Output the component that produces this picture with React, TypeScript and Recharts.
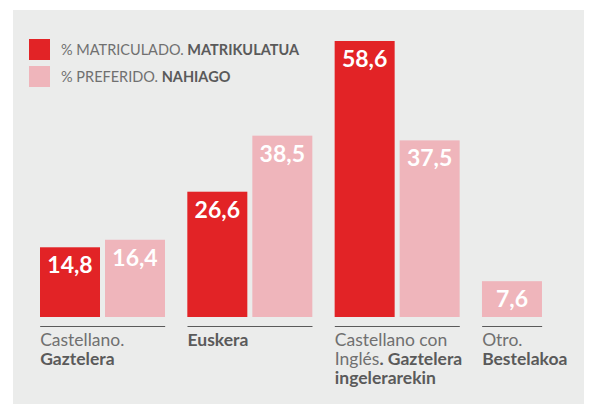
import React from 'react';
import { BarChart, Bar, XAxis, YAxis } from 'recharts';

const categories = ['Castellano. Gaztelera', 'Euskera', 'Castellano con Inglés. Gaztelera ingelerarekin', 'Otro. Bestelakoa'];
const matriculado = [14.8, 26.6, 58.6, null];
const preferido = [16.4, 38.5, 37.5, 7.6];

// tick lines: [regular part, bold part]
const tickLines: [string, string][][] = [
  [['Castellano.', ''], ['', 'Gaztelera']],
  [['', 'Euskera']],
  [['Castellano con', ''], ['Inglés', '. Gaztelera'], ['', 'ingelerarekin']],
  [['Otro.', ''], ['', 'Bestelakoa']],
];

const legendRegular = ['% MATRICULADO.', '% PREFERIDO.'];
const legendBold = ['MATRIKULATUA', 'NAHIAGO'];

const RED = '#e22326';
const PINK = '#efb5bb';
const FONT = 'Lato, "Open Sans", sans-serif';

const data = categories.map((name, i) => ({
  name,
  matriculado: matriculado[i],
  preferido: preferido[i],
}));

const fmt = (v: number) => v.toFixed(1).replace('.', ',');

const BarWithLabel = (props: any) => {
  const { x, y, width, height, fill, index, dataKey } = props;
  const v = data[index][dataKey as 'matriculado' | 'preferido'];
  if (v == null) return null;
  // when the first series is missing the bar moves into the first slot
  const dx = dataKey === 'preferido' && data[index].matriculado == null ? -(width + 5) : 0;
  return (
    <g>
      <rect x={x + dx} y={y} width={width} height={height} fill={fill} />
      <text
        x={x + dx + width / 2}
        y={y + 26}
        textAnchor="middle"
        fill="#fff"
        fontFamily={FONT}
        fontWeight={700}
        fontSize={23}
      >
        {fmt(v)}
      </text>
    </g>
  );
};

const CategoryTick = (props: any) => {
  const { x, y, index } = props;
  const left = x - 62.5;
  const lineW = data[index].matriculado == null ? 60 : 125;
  return (
    <g>
      <line x1={left} x2={left + lineW} y1={y + 9.5} y2={y + 9.5} stroke="#5a5a5a" strokeWidth={1.2} />
      {tickLines[index].map((ln, k) => (
        <text key={k} x={left} y={y + 29 + k * 19} fontFamily={FONT} fontSize={17.5}>
          {ln[0] && <tspan fill="#707070" fontWeight={400}>{ln[0]}</tspan>}
          {ln[1] && <tspan fill="#5a5a5a" fontWeight={700}>{ln[1]}</tspan>}
        </text>
      ))}
    </g>
  );
};

const LegendBox = () => (
  <div style={{ position: 'absolute', left: 29, top: 39, fontFamily: FONT, fontSize: 14.5 }}>
    {[RED, PINK].map((c, i) => (
      <div key={i} style={{ display: 'flex', alignItems: 'center', height: 21, marginBottom: 6 }}>
        <div style={{ width: 21, height: 21, background: c, marginRight: 11 }} />
        <span style={{ color: '#707070' }}>
          {legendRegular[i]} <b style={{ color: '#5a5a5a' }}>{legendBold[i]}</b>
        </span>
      </div>
    ))}
  </div>
);

export default function App() {
  return (
    <div style={{ position: 'absolute', left: 0, top: 0, width: 590, height: 404, background: '#fff', overflow: 'hidden' }}>
      <div style={{ position: 'absolute', left: 13, top: 10, width: 571, height: 394, background: '#ebeceb' }} />
      <div style={{ position: 'absolute', left: 0, top: 0 }}>
        <BarChart
          width={640}
          height={404}
          data={data}
          barSize={60}
          barGap={5}
          margin={{ top: 34.4, right: 21.7, bottom: 0, left: 29 }}
        >
          <XAxis
            dataKey="name"
            height={87}
            axisLine={false}
            tickLine={false}
            tickSize={0}
            tickMargin={0}
            interval={0}
            tick={<CategoryTick />}
          />
          <YAxis hide domain={[0, 60]} />
          <Bar dataKey="matriculado" fill={RED} isAnimationActive={false} shape={<BarWithLabel />} />
          <Bar dataKey="preferido" fill={PINK} isAnimationActive={false} shape={<BarWithLabel />} />
        </BarChart>
      </div>
      <LegendBox />
    </div>
  );
}
